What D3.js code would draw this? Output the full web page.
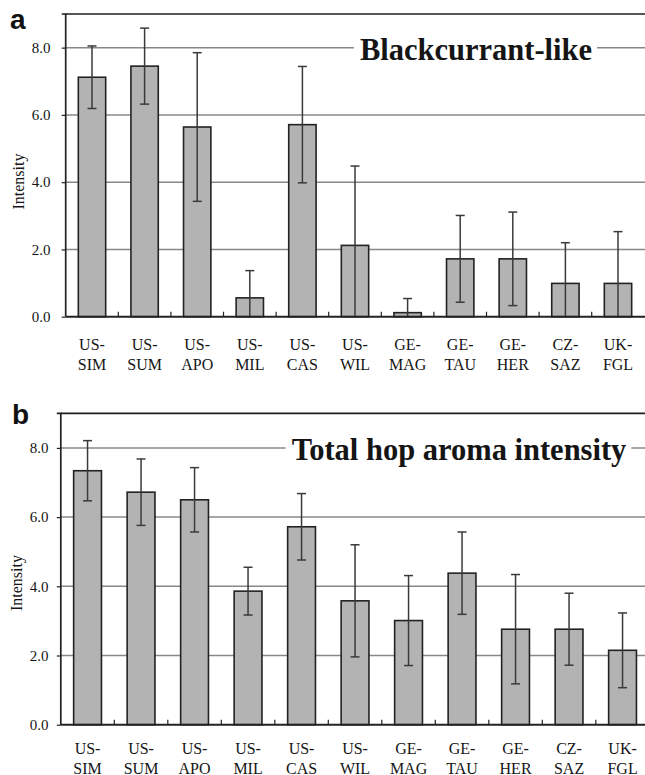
<!DOCTYPE html>
<html>
<head>
<meta charset="utf-8">
<script src="https://cdn.jsdelivr.net/npm/d3@7"></script>
<style>
  html, body { margin: 0; padding: 0; background: #fff; }
  svg { display: block; }
</style>
</head>
<body>
<svg id="chart" width="645" height="775"></svg>
<script>
// ---- data ----
const categories = ["US-SIM","US-SUM","US-APO","US-MIL","US-CAS","US-WIL","GE-MAG","GE-TAU","GE-HER","CZ-SAZ","UK-FGL"];
const blackcurrantMeans = [7.12, 7.45, 5.64, 0.56, 5.71, 2.12, 0.12, 1.72, 1.72, 0.99, 0.99];
const blackcurrantErrors = [0.93, 1.13, 2.21, 0.81, 1.73, 2.36, 0.42, 1.29, 1.39, 1.21, 1.54];
const totalMeans = [7.34, 6.72, 6.50, 3.86, 5.72, 3.58, 3.01, 4.38, 2.76, 2.76, 2.15];
const totalErrors = [0.87, 0.96, 0.93, 0.69, 0.96, 1.62, 1.30, 1.19, 1.58, 1.04, 1.08];
const yTickValues = [0, 2, 4, 6, 8];
const gridValues = [2, 4, 6, 8];
const panelTitles = ["Blackcurrant-like", "Total hop aroma intensity"];
const panelLetters = ["a", "b"];
const yLabel = "Intensity";

const svg = d3.select("#chart");
const SERIF = "'Liberation Serif','Times New Roman',serif";

const panels = [
  { letter: panelLetters[0], title: panelTitles[0], means: blackcurrantMeans, errs: blackcurrantErrors,
    left: 65.7, right: 644.3, top: 14, bottom: 316.7,
    titleX: 476, titleY: 60, letterX: 10, letterY: 29,
    tickLabelX: 50.5, yLabelX: 18, yLabelY: 181.5,
    line1Y: 350, line2Y: 370 },
  { letter: panelLetters[1], title: panelTitles[1], means: totalMeans, errs: totalErrors,
    left: 60.8, right: 649.3, top: 413.3, bottom: 724.7,
    titleX: 459, titleY: 460, letterX: 12, letterY: 424,
    tickLabelX: 48.5, yLabelX: 16.5, yLabelY: 583,
    line1Y: 753.5, line2Y: 773.5 }
];

panels.forEach(p => {
  const g = svg.append("g");
  const x = d3.scaleBand().domain(categories).range([p.left, p.right])
    .paddingInner(0.48).paddingOuter(0.24);
  const y = d3.scaleLinear().domain([0, 9]).range([p.bottom, p.top]);
  const step = x.step();

  // gridlines
  g.append("g").selectAll("line").data(gridValues).join("line")
    .attr("x1", p.left).attr("x2", 645)
    .attr("y1", d => y(d)).attr("y2", d => y(d))
    .attr("stroke", "#888").attr("stroke-width", 1.5);

  // top border
  g.append("line").attr("x1", p.left).attr("x2", 645)
    .attr("y1", y(9)).attr("y2", y(9))
    .attr("stroke", "#1e1e1e").attr("stroke-width", 1.7);

  // title with white background
  const t = g.append("text")
    .attr("x", p.titleX).attr("y", p.titleY)
    .attr("text-anchor", "middle")
    .attr("font-family", SERIF)
    .attr("font-weight", "bold").attr("font-size", 30.5)
    .attr("fill", "#151515")
    .text(p.title);
  const bb = t.node().getBBox();
  g.insert("rect", "text")
    .attr("x", bb.x - 6).attr("y", bb.y + 2)
    .attr("width", bb.width + 11).attr("height", bb.height - 4)
    .attr("fill", "#fff");

  // bars
  g.append("g").selectAll("rect").data(categories).join("rect")
    .attr("x", d => x(d))
    .attr("width", x.bandwidth())
    .attr("y", (d, i) => y(p.means[i]))
    .attr("height", (d, i) => y(0) - y(p.means[i]))
    .attr("fill", "#b3b3b3")
    .attr("stroke", "#222").attr("stroke-width", 1.6);

  // error bars
  const eb = g.append("g").attr("stroke", "#3a3a3a").attr("stroke-width", 1.5);
  categories.forEach((c, i) => {
    const cx = x(c) + x.bandwidth() / 2;
    const hi = p.means[i] + p.errs[i];
    const loRaw = p.means[i] - p.errs[i];
    const lo = Math.max(0, loRaw);
    eb.append("line").attr("x1", cx).attr("x2", cx).attr("y1", y(hi)).attr("y2", y(lo));
    eb.append("line").attr("x1", cx - 4.5).attr("x2", cx + 4.5).attr("y1", y(hi)).attr("y2", y(hi));
    if (loRaw >= 0) {
      eb.append("line").attr("x1", cx - 4.5).attr("x2", cx + 4.5).attr("y1", y(lo)).attr("y2", y(lo));
    }
  });

  // x baseline
  g.append("line").attr("x1", p.left).attr("x2", 645)
    .attr("y1", y(0)).attr("y2", y(0))
    .attr("stroke", "#222").attr("stroke-width", 1.9);

  // category boundary ticks (inside)
  g.append("g").selectAll("line").data(categories.slice(1)).join("line")
    .attr("x1", d => x(d) - x.paddingInner() * step / 2)
    .attr("x2", d => x(d) - x.paddingInner() * step / 2)
    .attr("y1", y(0)).attr("y2", y(0) - 5)
    .attr("stroke", "#222").attr("stroke-width", 1.2);

  // y axis
  const yAxis = d3.axisLeft(y).tickValues(yTickValues).tickFormat(d3.format(".1f")).tickSize(4).tickPadding(0);
  const ya = g.append("g").attr("transform", `translate(${p.left},0)`).call(yAxis);
  ya.select(".domain").attr("stroke", "#222").attr("stroke-width", 1.7)
    .attr("d", `M-4,${y(9)}H0V${y(0)}`);
  ya.selectAll(".tick line").attr("stroke", "#222").attr("stroke-width", 1.2);
  ya.selectAll(".tick text")
    .attr("x", p.tickLabelX - p.left)
    .attr("font-family", SERIF)
    .attr("font-size", 15).attr("fill", "#151515");

  // x labels
  const xl = g.append("g").selectAll("text").data(categories).join("text")
    .attr("text-anchor", "middle")
    .attr("font-family", SERIF)
    .attr("font-size", 16).attr("fill", "#151515");
  xl.append("tspan").attr("x", d => x(d) + x.bandwidth() / 2).attr("y", p.line1Y)
    .text(d => d.split("-")[0] + "-");
  xl.append("tspan").attr("x", d => x(d) + x.bandwidth() / 2).attr("y", p.line2Y)
    .text(d => d.split("-")[1]);

  // y label
  g.append("text")
    .attr("transform", `translate(${p.yLabelX},${p.yLabelY}) rotate(-90)`)
    .attr("text-anchor", "middle").attr("dy", "0.35em")
    .attr("font-family", SERIF)
    .attr("font-size", 16).attr("fill", "#151515")
    .text(yLabel);

  // panel letter
  g.append("text").attr("x", p.letterX).attr("y", p.letterY)
    .attr("font-family", "'Liberation Sans',Arial,sans-serif")
    .attr("font-weight", "bold").attr("font-size", 28).attr("fill", "#111")
    .text(p.letter);
});
</script>
</body>
</html>
